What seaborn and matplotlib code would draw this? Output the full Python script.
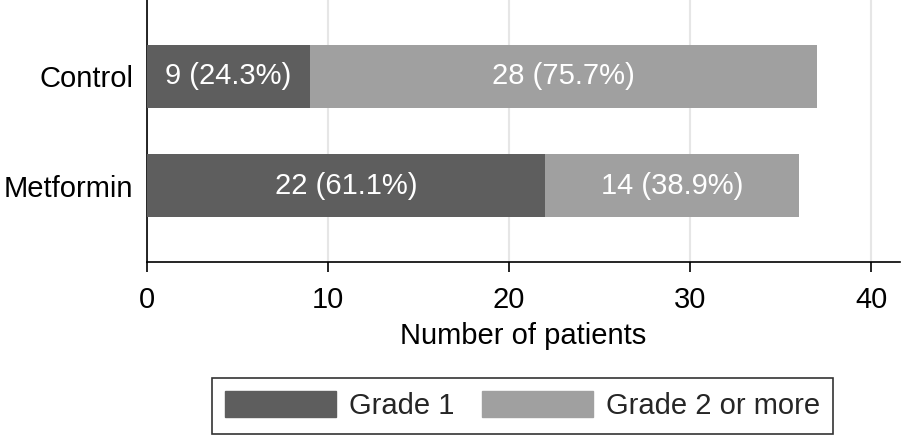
import matplotlib
matplotlib.use("Agg")
import matplotlib.pyplot as plt
import matplotlib.patches as mpatches
import pandas as pd
import seaborn as sns

groups = ["Control", "Metformin"]
grade1 = [9, 22]
grade2 = [28, 14]
grade1_pct = [24.3, 61.1]
grade2_pct = [75.7, 38.9]
x_ticks = [0, 10, 20, 30, 40]

dark = "#5e5e5e"
light = "#a0a0a0"
fs = 21

df = pd.DataFrame({"group": groups, "grade1": grade1, "grade2": grade2})
df["total"] = df["grade1"] + df["grade2"]

sns.set_style("white")
plt.rcParams["font.family"] = ["Liberation Sans", "DejaVu Sans"]

fig = plt.figure(figsize=(9.02, 4.36), dpi=100)
ax = fig.add_axes([0.163, 0.399, 0.835, 0.601])

# stacked bars: total first, then grade 1 on top
sns.barplot(data=df, x="total", y="group", color=light, orient="h",
            width=0.58, saturation=1, linewidth=0, ax=ax, zorder=2)
sns.barplot(data=df, x="grade1", y="group", color=dark, orient="h",
            width=0.58, saturation=1, linewidth=0, ax=ax, zorder=3)

for i in range(len(groups)):
    ax.text(grade1[i] / 2, i, f"{grade1[i]} ({grade1_pct[i]}%)",
            ha="center", va="center", color="white", fontsize=fs, zorder=4)
    ax.text(grade1[i] + grade2[i] / 2, i, f"{grade2[i]} ({grade2_pct[i]}%)",
            ha="center", va="center", color="white", fontsize=fs, zorder=4)

ax.set_xlim(0, 41.6)
ax.set_ylim(1.7, -0.7)
ax.set_xticks(x_ticks)
ax.xaxis.grid(True, color="#e6e6e6", linewidth=1.5, zorder=0)
ax.set_axisbelow(True)
ax.tick_params(axis="x", labelsize=fs, length=7, width=1.2, bottom=True,
               pad=10, labelcolor="black", color="black")
ax.tick_params(axis="y", labelsize=fs, length=0, pad=10, labelcolor="black")
ax.set_xlabel("Number of patients", fontsize=fs, labelpad=6, color="black")
ax.set_ylabel("")
for side in ["top", "right"]:
    ax.spines[side].set_visible(False)
for side in ["left", "bottom"]:
    ax.spines[side].set_color("black")
    ax.spines[side].set_linewidth(1.2)

handles = [mpatches.Patch(color=dark, label="Grade 1"),
           mpatches.Patch(color=light, label="Grade 2 or more")]
leg = fig.legend(handles=handles, loc="center", bbox_to_anchor=(0.579, 0.069),
                 ncol=2, fontsize=fs, frameon=True, fancybox=False,
                 edgecolor="black", handlelength=3.8, handleheight=1.0,
                 columnspacing=0.95, borderpad=0.45, handletextpad=0.45)
leg.get_frame().set_linewidth(1.2)

fig.savefig("out.png", dpi=100)
